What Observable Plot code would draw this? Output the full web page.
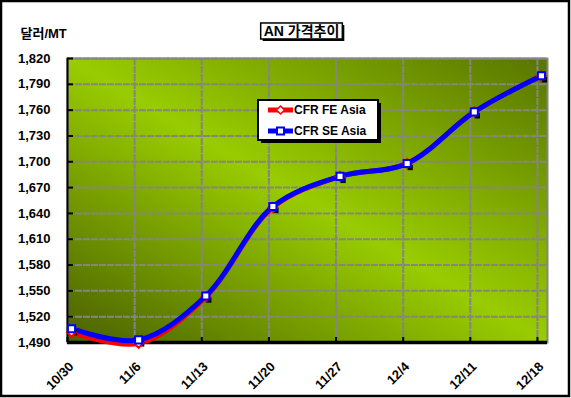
<!DOCTYPE html>
<html><head><meta charset="utf-8">
<script src="https://cdn.jsdelivr.net/npm/d3@7"></script>
<script src="https://cdn.jsdelivr.net/npm/@observablehq/plot@0.6"></script>
<style>body{margin:0;background:#fff}</style>
</head><body><div id="chart"></div>
<script>
const dates = ["10/30","11/6","11/13","11/20","11/27","12/4","12/11","12/18"];
const feAsia = [1502,1489,1543,1647,1683,1698,1758,1800];
const seAsia = [1506,1493,1544,1648,1683,1698,1758,1800];
const yTicks = d3.range(1490, 1821, 30);
const seriesNames = ["CFR FE Asia","CFR SE Asia"];
const seriesColors = ["#ff0000","#0000ff"];
const title = "AN 가격추이";
const yLabel = "달러/MT";

const rows = [
  ...dates.map((d,i)=>({i, date:d, series:seriesNames[0], value:feAsia[i]})),
  ...dates.map((d,i)=>({i, date:d, series:seriesNames[1], value:seAsia[i]}))
];
const fe = rows.filter(r=>r.series===seriesNames[0]);
const se = rows.filter(r=>r.series===seriesNames[1]);
const idx = dates.map((d,i)=>i);
const font = "'Liberation Sans', Arial, 'Noto Sans CJK KR', sans-serif";
const fmt = d3.format(",");
const grid = {stroke:"#858585", strokeWidth:2, strokeDasharray:"7 1"};

const chart = Plot.plot({
  width: 571, height: 398,
  marginLeft: 67, marginRight: 24, marginTop: 58, marginBottom: 56,
  style: {fontFamily: font, fontWeight: "bold", fontSize: "13px", color: "#000", background: "#fff", overflow: "visible"},
  x: {domain: [0, 7.15], axis: null},
  y: {domain: [1490, 1820], axis: null},
  color: {domain: seriesNames, range: seriesColors},
  marks: [
    Plot.frame({fill: "url(#bgGrad)", stroke: "#858585", strokeWidth: 2}),
    Plot.ruleY(yTicks.slice(1), grid),
    Plot.ruleX(idx.slice(1), grid),
    Plot.ruleX([0], {stroke:"#000", strokeWidth:2}),
    Plot.ruleY([1490], {stroke:"#000", strokeWidth:3.5}),
    Plot.tickY(yTicks, {stroke:"#000", strokeWidth:2, insetRight:474}),
    Plot.tickX(idx, {stroke:"#000", strokeWidth:2, insetTop:279}),
    Plot.line(rows, {x:"i", y:"value", stroke:"series", z:"series", strokeWidth:5, curve:"catmull-rom", dx:4}),
    Plot.dot(se, {x:"i", y:"value", symbol:"square", r:3, fill:"#000", dx:7, dy:4}),
    Plot.dot(fe, {x:"i", y:"value", symbol:"diamond2", r:4, fill:"#fff", stroke:seriesColors[0], strokeWidth:2, dx:4}),
    Plot.dot(se, {x:"i", y:"value", symbol:"square", r:4, fill:"#fff", stroke:seriesColors[1], strokeWidth:2, dx:4}),
    Plot.text(yTicks, {y:d=>d, text:d=>fmt(d), frameAnchor:"left", textAnchor:"end", dx:-17, fill:"#000"}),
    Plot.text(dates, {x:(d,i)=>i, text:d=>d, frameAnchor:"bottom", rotate:-45, textAnchor:"end", lineAnchor:"middle", dx:4, dy:22, fill:"#000"}),
    Plot.text([yLabel], {text:d=>d, frameAnchor:"top-left", textAnchor:"start", lineAnchor:"middle", dx:-47, dy:-25, fill:"#000"}),
    Plot.text([title], {text:d=>d, frameAnchor:"top", lineAnchor:"middle", dx:-6, dy:-27, fill:"#000", fontSize:14})
  ]
});
document.getElementById("chart").appendChild(chart);

const svg = d3.select(chart);
const defs = svg.insert("defs", ":first-child");
const lg = defs.append("linearGradient").attr("id","bgGrad")
  .attr("x1",0).attr("y1",1).attr("x2",1).attr("y2",0);
lg.append("stop").attr("offset",0).attr("stop-color","#4a6100");
lg.append("stop").attr("offset",0.5).attr("stop-color","#99cc00");
lg.append("stop").attr("offset",1).attr("stop-color","#587500");

// title box
const tnode = svg.selectAll("text").filter(function(){return this.textContent===title;}).node();
if (tnode) {
  const sr = chart.getBoundingClientRect();
  const r = tnode.getBoundingClientRect();
  const bx = r.left - sr.left, by = r.top - sr.top;
  const box = svg.insert("g", function(){ return tnode.parentNode; });
  box.append("rect").attr("x", bx-3+2).attr("y", by+2).attr("width", r.width+6).attr("height", r.height).attr("fill","#000");
  box.append("rect").attr("x", bx-3).attr("y", by).attr("width", r.width+6).attr("height", r.height).attr("fill","#fff").attr("stroke","#000").attr("stroke-width",1.5);
}

// legend
const leg = svg.append("g").attr("font-size", 12).attr("font-weight","bold").attr("font-family", font).attr("text-anchor","start");
leg.append("rect").attr("x",261).attr("y",103).attr("width",120).attr("height",40).attr("fill","#000");
leg.append("rect").attr("x",258).attr("y",100).attr("width",120).attr("height",40).attr("fill","#fff").attr("stroke","#000").attr("stroke-width",2);
seriesNames.forEach((name, k) => {
  const y = 110 + k*21;
  leg.append("line").attr("x1",268).attr("x2",293).attr("y1",y).attr("y2",y).attr("stroke",seriesColors[k]).attr("stroke-width",5);
  if (k===0) {
    leg.append("path").attr("d",`M280.5,${y-4}L284.5,${y}L280.5,${y+4}L276.5,${y}Z`).attr("fill","#fff").attr("stroke",seriesColors[k]).attr("stroke-width",1.5);
  } else {
    leg.append("rect").attr("x",277).attr("y",y-3.5).attr("width",7).attr("height",7).attr("fill","#fff").attr("stroke",seriesColors[k]).attr("stroke-width",2);
  }
  leg.append("text").attr("x",294).attr("y",y).attr("dy","0.35em").attr("text-anchor","start").attr("fill","#000").text(name);
});

// outer border
svg.append("rect").attr("x",1).attr("y",1).attr("width",568).attr("height",395).attr("fill","none").attr("stroke","#000").attr("stroke-width",2.5);
</script>
</body></html>
